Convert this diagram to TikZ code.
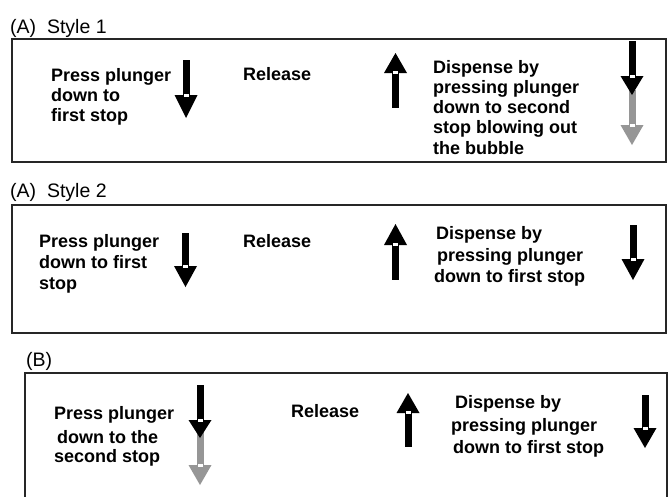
\documentclass[tikz,border=0pt]{standalone}
\usepackage{fontspec}
\setmainfont{Liberation Sans}
\newcommand{\arrdown}[5]{% xc, top, base, tip, colour
  \fill[#5] ({#1-3.5},{-#2}) rectangle ({#1+3.5},{-#3-1});
  \fill[#5] ({#1-11.5},{-#3}) -- ({#1+11.5},{-#3}) -- (#1,{-#4}) -- cycle;
  \fill[white] ({#1-2.5},{-#3+1}) rectangle ({#1+2.5},{-#3-2});
}
\newcommand{\arrup}[5]{% xc, bottom, base, tip, colour
  \fill[#5] ({#1-3.5},{-#2}) rectangle ({#1+3.5},{-#3+1});
  \fill[#5] ({#1-11.5},{-#3}) -- ({#1+11.5},{-#3}) -- (#1,{-#4}) -- cycle;
  \fill[white] ({#1-2.5},{-#3-1}) rectangle ({#1+2.5},{-#3+2});
}
\definecolor{arrgray}{RGB}{150,150,150}
\tikzset{
  boxframe/.style={draw=black!85, line width=1.2pt},
  headtxt/.style={anchor=base west, inner sep=0pt, font=\fontsize{19.5}{24}\selectfont},
  bodytxt/.style={anchor=base west, inner sep=0pt, font=\fontsize{18}{20}\selectfont\bfseries},
}
\begin{document}
\begin{tikzpicture}[x=1pt,y=1pt]
\useasboundingbox (0,0) rectangle (669,-496);
\fill[white] (0,0) rectangle (669,-496);

% ---------- (A) Style 1 ----------
\node[headtxt] (h1) at (10,-33) {(A)\ \ Style 1};
\draw[boxframe] (12,-39) rectangle (666,-162);
\node[bodytxt] (a1) at (51,-81) {Press plunger};
\node[bodytxt] (a2) at (51,-101) {down to};
\node[bodytxt] (a3) at (51,-121) {first stop};
\node[bodytxt] (a4) at (243,-80) {Release};
\node[bodytxt] (a5) at (433,-73) {Dispense by};
\node[bodytxt] (a6) at (433,-93) {pressing plunger};
\node[bodytxt] (a7) at (433,-113) {down to second};
\node[bodytxt] (a8) at (433,-133) {stop blowing out};
\node[bodytxt] (a9) at (433,-154) {the bubble};
\arrdown{186}{60}{95}{118}{black}
\arrup{395.5}{108}{73}{53}{black}
\arrdown{632}{90}{125}{145}{arrgray}
\arrdown{632}{41}{76}{95}{black}

% ---------- (A) Style 2 ----------
\node[headtxt] (h2) at (10,-197) {(A)\ \ Style 2};
\draw[boxframe] (12,-205) rectangle (666,-333);
\node[bodytxt] (b1) at (39,-247) {Press plunger};
\node[bodytxt] (b2) at (39,-268) {down to first};
\node[bodytxt] (b3) at (39,-289) {stop};
\node[bodytxt] (b4) at (243,-247) {Release};
\node[bodytxt] (b5) at (436,-239) {Dispense by};
\node[bodytxt] (b6) at (437,-261) {pressing plunger};
\node[bodytxt] (b7) at (434,-282) {down to first stop};
\arrdown{185.5}{233}{266}{287}{black}
\arrup{395.5}{280}{245}{224}{black}
\arrdown{633}{225}{259}{280}{black}

% ---------- (B) ----------
\node[headtxt] (h3) at (26,-366) {(B)};
\draw[boxframe] (25,-373) rectangle (667,-505);
\node[bodytxt] (c1) at (54,-419) {Press plunger};
\node[bodytxt] (c2) at (57,-443) {down to the};
\node[bodytxt] (c3) at (54,-462) {second stop};
\node[bodytxt] (c4) at (291,-417) {Release};
\node[bodytxt] (c5) at (455,-408) {Dispense by};
\node[bodytxt] (c6) at (451,-431) {pressing plunger};
\node[bodytxt] (c7) at (453,-453) {down to first stop};
\arrdown{200}{432}{465}{485}{arrgray}
\arrdown{200}{385}{420}{438}{black}
\arrup{408}{447}{413}{393}{black}
\arrdown{645}{395}{428}{448}{black}
\end{tikzpicture}
\end{document}
